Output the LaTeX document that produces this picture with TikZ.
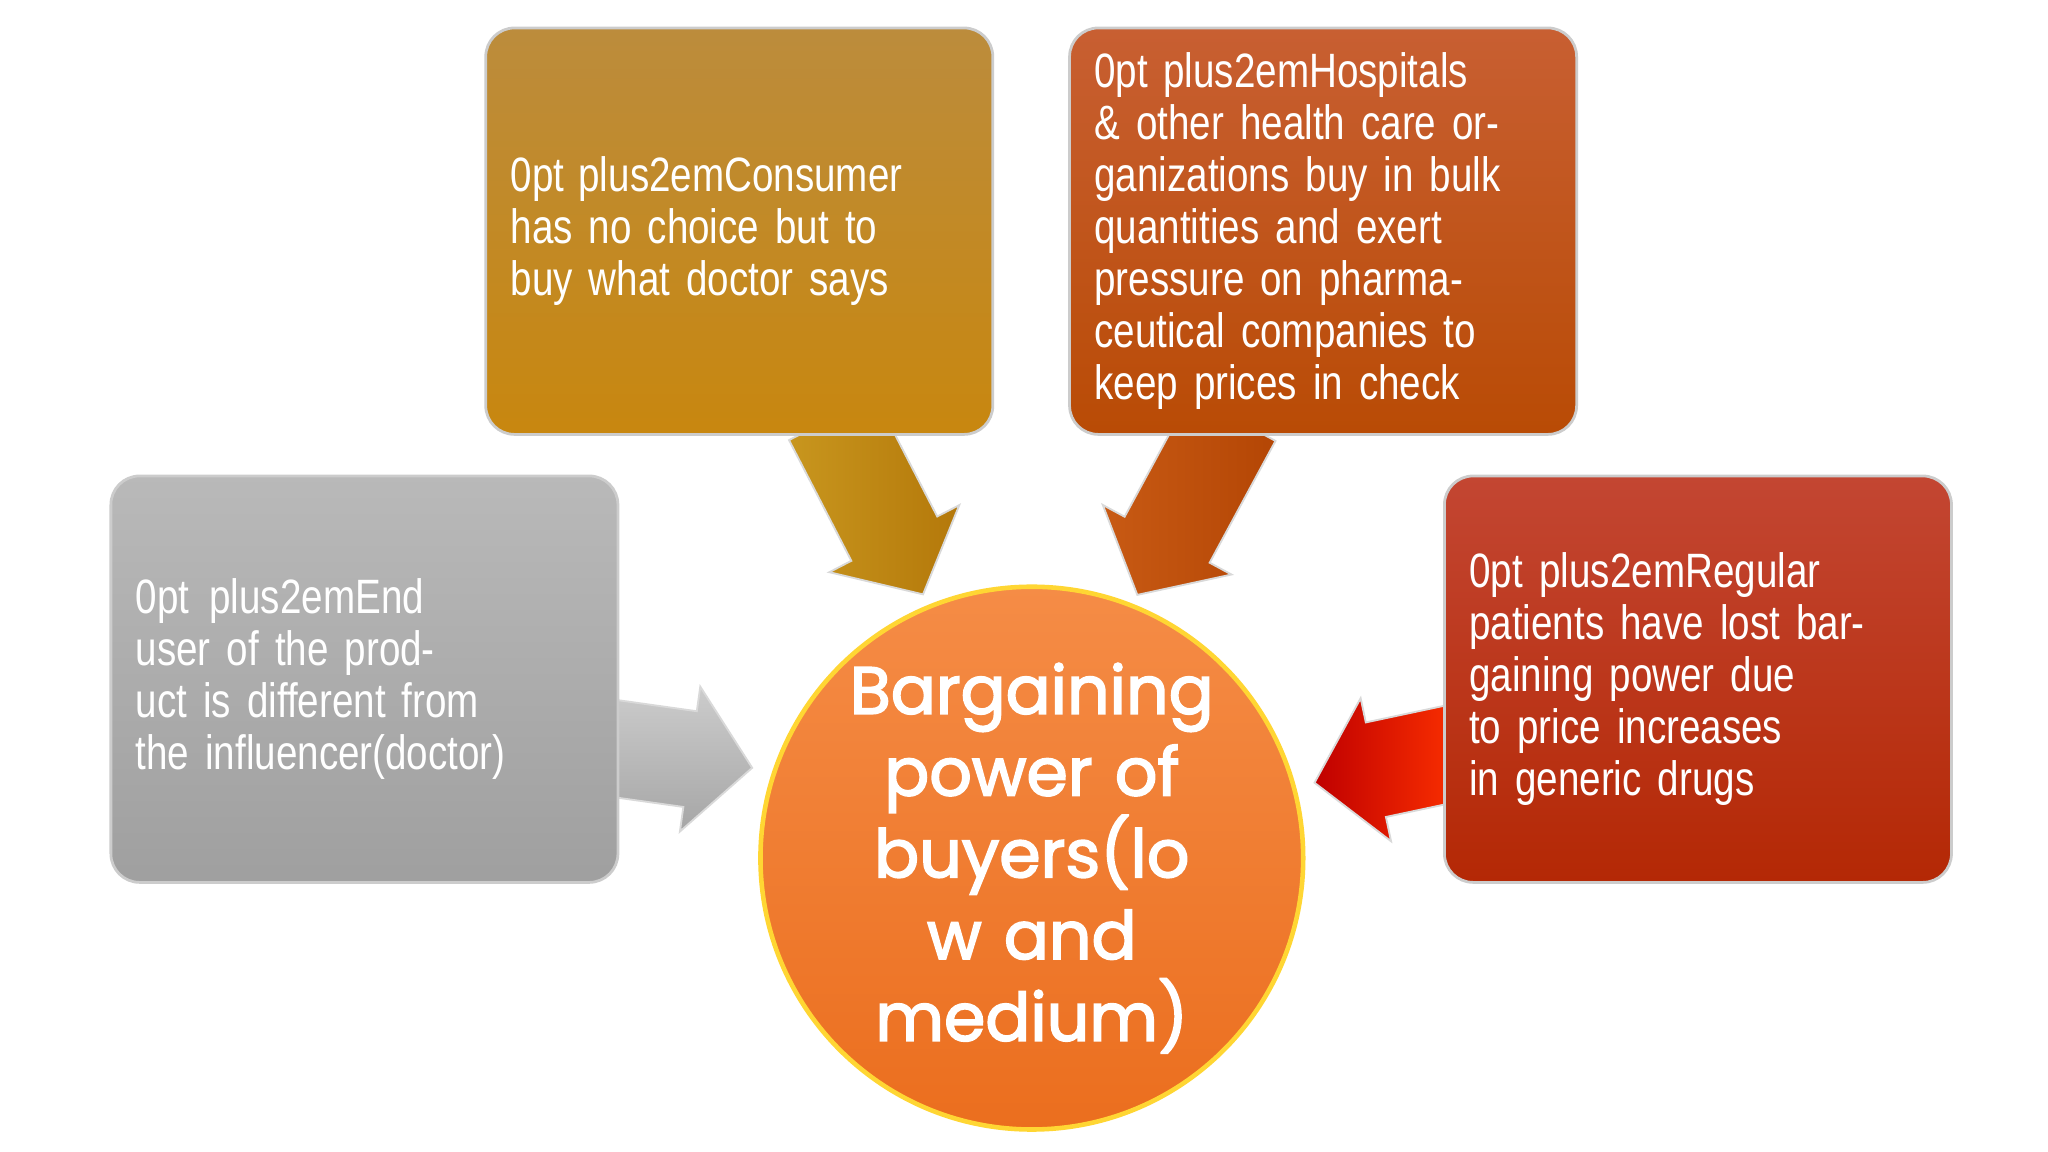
\documentclass[tikz,border=0pt]{standalone}
\usepackage{fontspec}
\setmainfont{Liberation Sans}[FakeStretch=0.8]
\newfontfamily\circfont{Poppins}[FakeBold=2.5]
\tikzset{
 box/.style={rounded corners=0.22cm,minimum width=3.88cm,minimum height=3.11cm,text width=3.5cm,align=center,text=white,font=\fontsize{10.5}{11.3}\selectfont\hyphenpenalty=10000,draw=white!80!black,line width=0.6pt},
 barrow/.style={draw=white!85!black,line width=0.4pt}
}
\begin{document}
\begin{tikzpicture}[x=0.01cm,y=-0.01cm]
\useasboundingbox[fill=white] (0,0) rectangle (1568,882);
% arrows
\begin{scope}[shift={(463,572)},rotate=-8]
\path[barrow,top color=gray!40,bottom color=gray!70] (0,-37) -- (66,-37) -- (66,-56) -- (114,0) -- (66,56) -- (66,37) -- (0,37) -- cycle;
\end{scope}
\begin{scope}[shift={(1116,576)},rotate=192]
\path[barrow,left color=red!75!black,right color=red!60!orange] (0,-37) -- (64,-37) -- (64,-56) -- (112,0) -- (64,56) -- (64,37) -- (0,37) -- cycle;
\end{scope}
\begin{scope}[shift={(637,320)},rotate=-62.7]
\path[barrow,left color={rgb,255:red,200;green,150;blue,30},right color={rgb,255:red,180;green,120;blue,10}] (0,-37) -- (104,-37) -- (104,-56) -- (152,0) -- (104,56) -- (104,37) -- (0,37) -- cycle;
\end{scope}
\begin{scope}[shift={(944,320)},rotate=-118.4]
\path[barrow,left color={rgb,255:red,200;green,90;blue,20},right color={rgb,255:red,180;green,70;blue,5}] (0,-37) -- (106,-37) -- (106,-56) -- (154,0) -- (106,56) -- (106,37) -- (0,37) -- cycle;
\end{scope}
% boxes
\node[box,top color=gray!55,bottom color=gray!75] (b1) at (279,520) {End user of the product is different from the influencer(doctor)};
\node[box,top color={rgb,255:red,188;green,140;blue,60},bottom color={rgb,255:red,200;green,135;blue,15}] (b2) at (566,177) {Consumer has no choice but to buy what doctor says};
\node[box,top color={rgb,255:red,200;green,95;blue,50},bottom color={rgb,255:red,185;green,75;blue,5}] (b3) at (1013,177) {Hospitals \& other health care organizations buy in bulk quantities and exert pressure on pharmaceutical companies to keep prices in check};
\node[box,top color={rgb,255:red,195;green,70;blue,50},bottom color={rgb,255:red,180;green,40;blue,5}] (b4) at (1300,520) {Regular patients have lost bargaining power due to price increases in generic drugs};
% circle
\node[circle,minimum size=4.1cm,inner sep=0pt,draw=orange!40!yellow!80,line width=1pt,top color={rgb,255:red,245;green,140;blue,70},bottom color={rgb,255:red,235;green,110;blue,30},text=white,align=center,text width=2.9cm,font=\circfont\fontsize{14.5}{17.8}\selectfont] (c) at (790,657) {Bargaining\\power of\\buyers(lo\\w and\\medium)};
\end{tikzpicture}
\end{document}
